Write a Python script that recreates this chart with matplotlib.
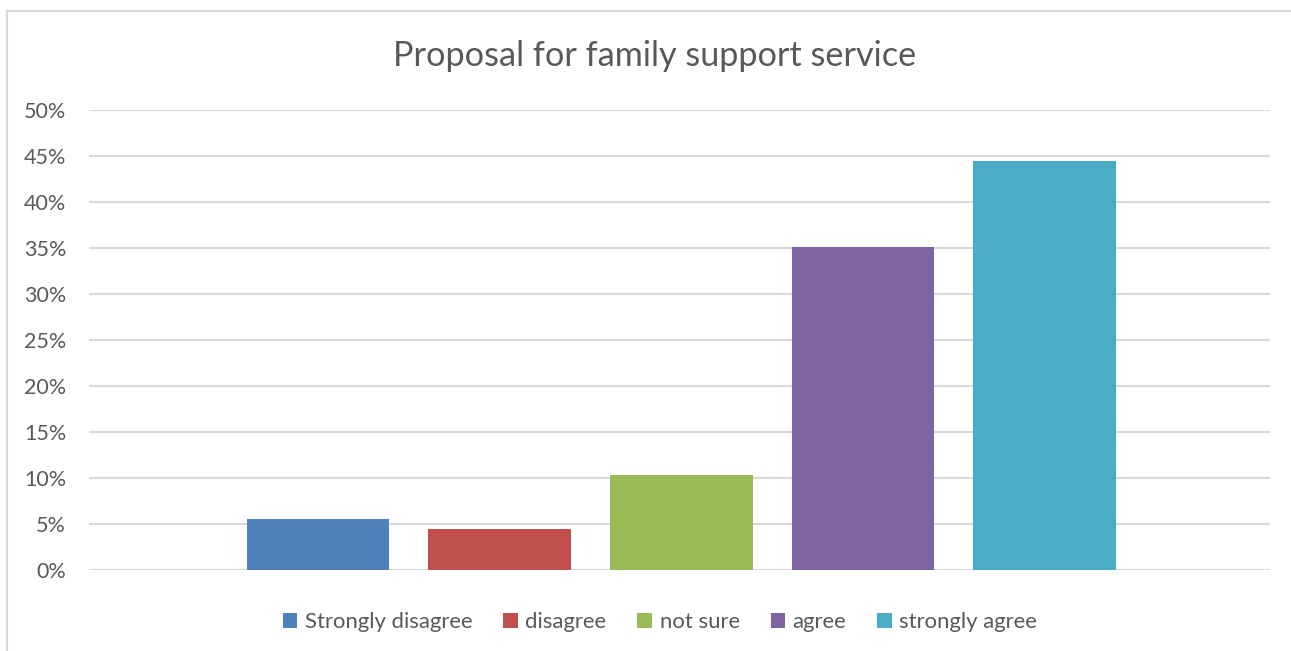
import matplotlib
matplotlib.use('Agg')
import matplotlib.pyplot as plt
from matplotlib.patches import Rectangle
import numpy as np

categories = ['Strongly disagree', 'disagree', 'not sure', 'agree', 'strongly agree']
shares = [0.055, 0.045, 0.103, 0.351, 0.445]
colors = ['#4F81BD', '#C0504D', '#9BBB59', '#8064A2', '#4BACC6']
yticks = [0.0, 0.05, 0.10, 0.15, 0.20, 0.25, 0.30, 0.35, 0.40, 0.45, 0.50]

plt.rcParams['font.family'] = ['Lato', 'DejaVu Sans']
text_color = '#595959'
grid_color = '#D9D9D9'

fig = plt.figure(figsize=(12.91, 6.51), dpi=100)
W, H = 1291, 651

# light frame around the chart area
fig.patches.append(Rectangle((7 / W, -0.1), 1.2, 1 - 11 / H + 0.1,
                             transform=fig.transFigure, fill=False,
                             edgecolor=grid_color, linewidth=1.5))

ax = fig.add_axes([89 / W, 1 - 570 / H, 1181 / W, 460 / H])
x = np.arange(len(categories))
bars = ax.bar(x, shares, width=0.785, color=colors, zorder=3)

ax.set_xlim(-1.26, 5.24)
ax.set_ylim(0, 0.5)
ax.set_yticks(yticks)
ax.set_yticklabels(['%d%%' % round(v * 100) for v in yticks])
ax.set_xticks([])
ax.tick_params(axis='y', length=0, pad=16.5, labelsize=15.5, labelcolor=text_color)
ax.grid(axis='y', color=grid_color, linewidth=1.5, zorder=0)
for s in ax.spines.values():
    s.set_visible(False)

fig.text(655 / W, 1 - 56 / H, 'Proposal for family support service',
         ha='center', va='center', fontsize=24.7, color=text_color)

leg = fig.legend(bars, categories, loc='center', bbox_to_anchor=(660 / W, 1 - 622 / H),
                 ncol=5, frameon=False, fontsize=15.9, handlelength=0.65, handleheight=0.65,
                 handletextpad=0.35, columnspacing=1.4, labelcolor=text_color)

fig.savefig('out.png', dpi=100)
